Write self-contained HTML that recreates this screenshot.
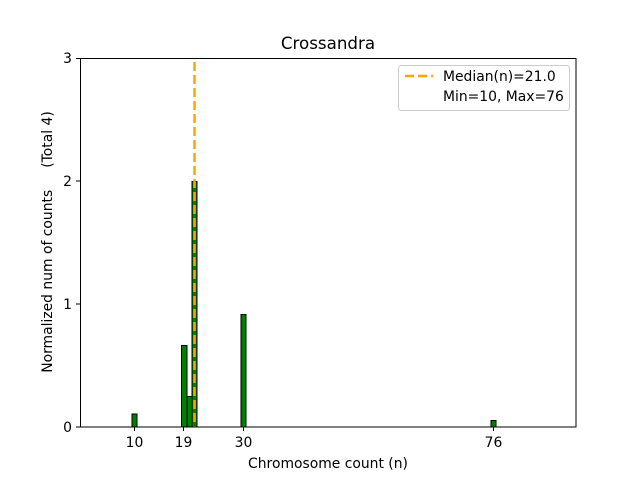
<!DOCTYPE html>
<html><head><meta charset="utf-8"><style>body{margin:0;background:#fff}svg{display:block}text{font-family:"DejaVu Sans","Liberation Sans",sans-serif;fill:#000}</style></head>
<body>
<svg width="640" height="480" xmlns="http://www.w3.org/2000/svg">
<rect width="640" height="480" fill="#fff"/>
<g fill="#008000" stroke="#000" stroke-width="1">
<rect x="132" y="414" width="5" height="13"/>
<rect x="181.5" y="345.5" width="5.5" height="81.5"/>
<rect x="187" y="396.5" width="5.5" height="30.5"/>
<rect x="192" y="181.5" width="5" height="245.5"/>
<rect x="241" y="314.5" width="5" height="112.5"/>
<rect x="491" y="420.5" width="5" height="6.5"/>
</g>
<line x1="194.5" y1="62" x2="194.5" y2="427" stroke="#FFA500" stroke-width="2.5" stroke-dasharray="9,4"/>
<rect x="80.5" y="58.5" width="495.5" height="368.5" fill="none" stroke="#000" stroke-width="1"/>
<g stroke="#000" stroke-width="1">
<line x1="76" y1="427" x2="80" y2="427"/><line x1="76" y1="304" x2="80" y2="304"/><line x1="76" y1="181" x2="80" y2="181"/><line x1="76" y1="58.5" x2="80" y2="58.5"/>
<line x1="134.5" y1="427" x2="134.5" y2="431"/><line x1="183.5" y1="427" x2="183.5" y2="431"/><line x1="243.5" y1="427" x2="243.5" y2="431"/><line x1="493.5" y1="427" x2="493.5" y2="431"/>
</g>
<g font-size="13.9" text-anchor="end">
<text x="72" y="432">0</text><text x="72" y="309">1</text><text x="72" y="186">2</text><text x="72" y="63">3</text>
</g>
<g font-size="13.9" text-anchor="middle">
<text x="134.5" y="447">10</text><text x="183.5" y="447">19</text><text x="243.5" y="447">30</text><text x="493.5" y="447">76</text>
<text x="328" y="468">Chromosome count (n)</text>
</g>
<text x="328" y="49" font-size="16.7" text-anchor="middle">Crossandra</text>
<text transform="translate(52,242) rotate(-90)" font-size="13.9" text-anchor="middle" xml:space="preserve">Normalized num of counts     (Total 4)</text>
<rect x="398.5" y="65.5" width="171" height="45" rx="3" fill="#fff" stroke="#ccc"/>
<line x1="405" y1="76" x2="433" y2="76" stroke="#FFA500" stroke-width="2.5" stroke-dasharray="9,4"/>
<text x="443" y="81" font-size="13.9">Median(n)=21.0</text>
<text x="443" y="101" font-size="13.9">Min=10, Max=76</text>
</svg>
</body></html>
